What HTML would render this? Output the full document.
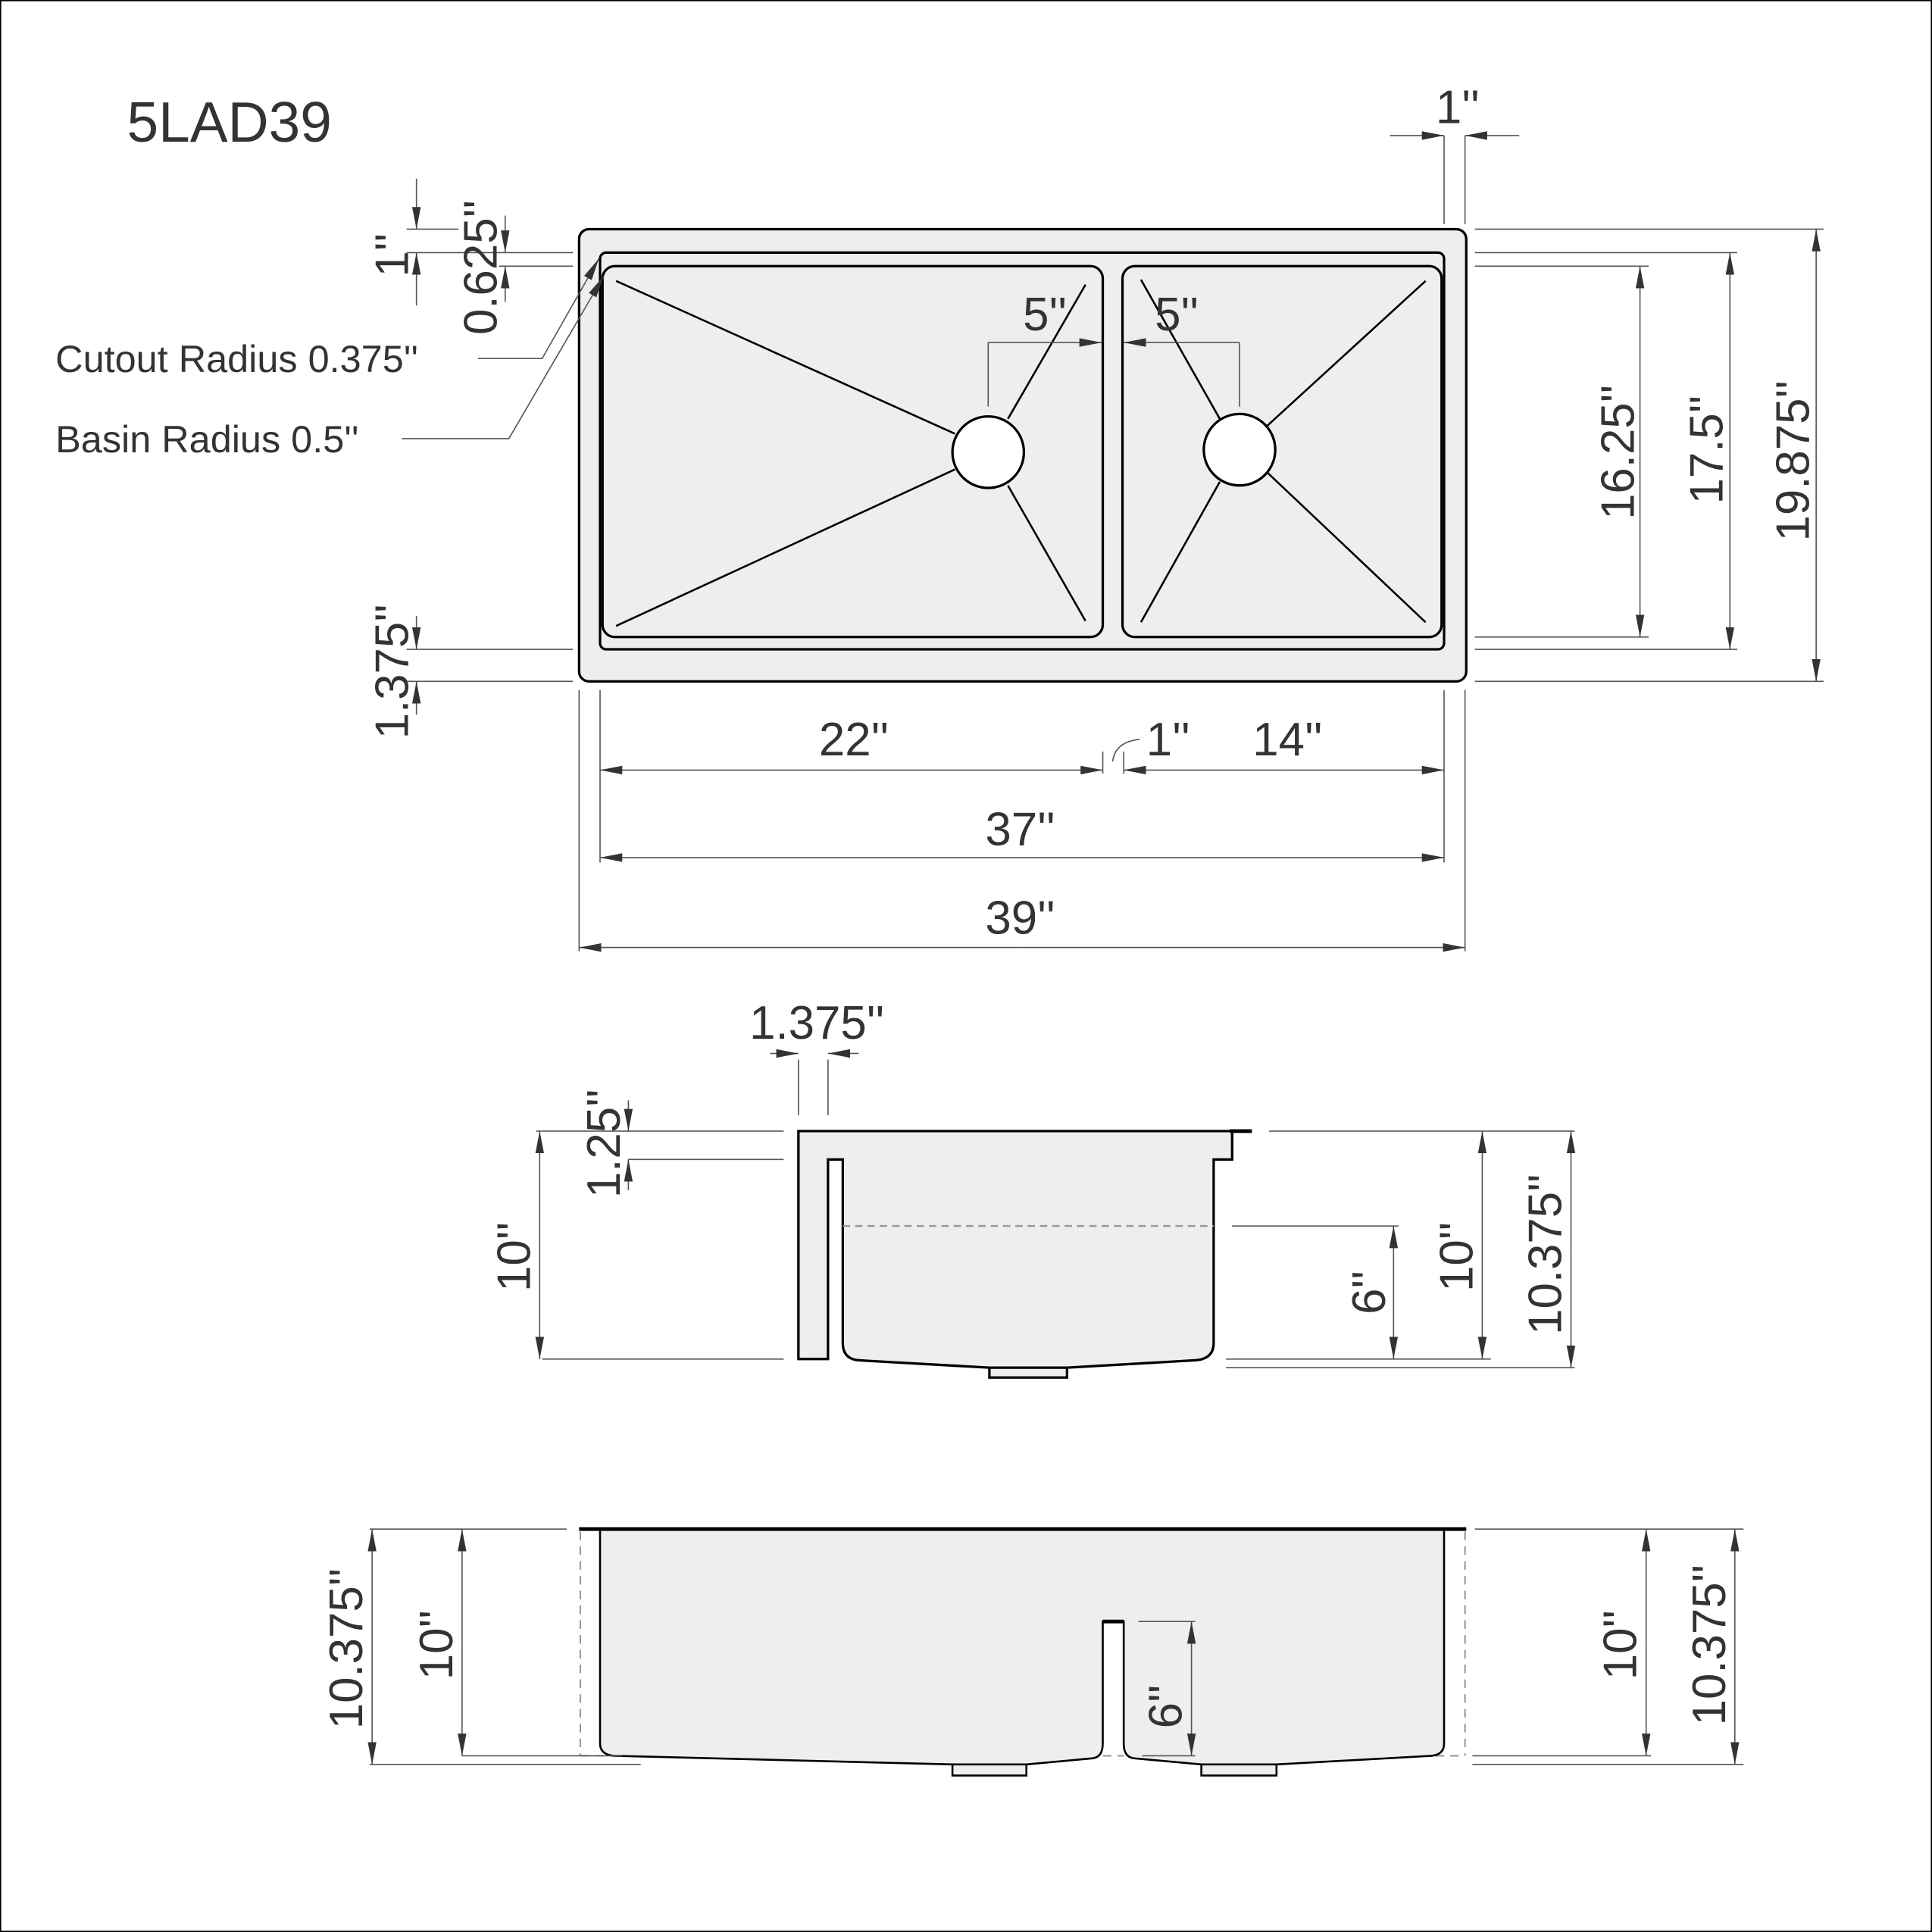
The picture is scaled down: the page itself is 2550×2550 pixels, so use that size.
<!DOCTYPE html>
<html><head><meta charset="utf-8"><style>
html,body{margin:0;padding:0;background:#fff;}
svg{display:block;}
text{font-family:"Liberation Sans",sans-serif;fill:#333;font-size:38px;}
</style></head><body>
<svg width="2550" height="2550" viewBox="0 0 1568 1568" xmlns="http://www.w3.org/2000/svg">
<defs>
<marker id="a" viewBox="0 0 18 8" refX="18" refY="4" markerWidth="18" markerHeight="8" markerUnits="userSpaceOnUse" orient="auto-start-reverse">
<path d="M0,0.5 L18,4 L0,7.5 Z" fill="#333"/>
</marker>
</defs>
<rect x="0.5" y="0.5" width="1567" height="1567" fill="none" stroke="#000" stroke-width="1"/>
<text x="103" y="115" style="font-size:46px">5LAD39</text>

<!-- TOP VIEW -->
<g stroke="#000" stroke-width="2" fill="#eee">
<rect x="470" y="186" width="720" height="367" rx="8"/>
<rect x="487" y="205" width="685" height="322" rx="5"/>
<rect x="489" y="216" width="406" height="301" rx="10"/>
<rect x="911" y="216" width="259" height="301" rx="10"/>
</g>
<g stroke="#000" stroke-width="1.6">
<line x1="500" y1="228" x2="775" y2="352"/>
<line x1="500" y1="508" x2="775" y2="381"/>
<line x1="881" y1="231" x2="818" y2="340"/>
<line x1="881" y1="504" x2="818" y2="394"/>
<line x1="926" y1="227" x2="990" y2="340"/>
<line x1="1157" y1="228" x2="1028" y2="346"/>
<line x1="926" y1="505" x2="990" y2="391"/>
<line x1="1157" y1="505" x2="1028" y2="383"/>
</g>
<circle cx="802" cy="367" r="29" fill="#fff" stroke="#000" stroke-width="2"/>
<circle cx="1006" cy="365" r="29" fill="#fff" stroke="#000" stroke-width="2"/>

<g stroke="#555" stroke-width="1" fill="none">
<line x1="802" y1="278" x2="802" y2="330"/>
<line x1="1006" y1="278" x2="1006" y2="330"/>
<line x1="802" y1="278" x2="894" y2="278" marker-end="url(#a)"/>
<line x1="1006" y1="278" x2="912" y2="278" marker-end="url(#a)"/>
<line x1="1172" y1="110" x2="1172" y2="182"/>
<line x1="1189" y1="110" x2="1189" y2="182"/>
<line x1="1128" y1="110" x2="1172" y2="110" marker-end="url(#a)"/>
<line x1="1233" y1="110" x2="1189" y2="110" marker-end="url(#a)"/>
<line x1="1197" y1="186" x2="1480" y2="186"/>
<line x1="1197" y1="205" x2="1410" y2="205"/>
<line x1="1197" y1="216" x2="1338" y2="216"/>
<line x1="1197" y1="517" x2="1338" y2="517"/>
<line x1="1197" y1="527" x2="1410" y2="527"/>
<line x1="1197" y1="553" x2="1480" y2="553"/>
<line x1="1331" y1="367" x2="1331" y2="216" marker-end="url(#a)"/>
<line x1="1331" y1="367" x2="1331" y2="517" marker-end="url(#a)"/>
<line x1="1404" y1="367" x2="1404" y2="205" marker-end="url(#a)"/>
<line x1="1404" y1="367" x2="1404" y2="527" marker-end="url(#a)"/>
<line x1="1474" y1="370" x2="1474" y2="186" marker-end="url(#a)"/>
<line x1="1474" y1="370" x2="1474" y2="553" marker-end="url(#a)"/>
<line x1="330" y1="186" x2="372" y2="186"/>
<line x1="330" y1="205" x2="465" y2="205"/>
<line x1="405" y1="216" x2="465" y2="216"/>
<line x1="338" y1="145" x2="338" y2="186" marker-end="url(#a)"/>
<line x1="338" y1="248" x2="338" y2="205" marker-end="url(#a)"/>
<line x1="410" y1="175" x2="410" y2="205" marker-end="url(#a)"/>
<line x1="410" y1="245" x2="410" y2="216" marker-end="url(#a)"/>
<line x1="330" y1="527" x2="465" y2="527"/>
<line x1="330" y1="553" x2="465" y2="553"/>
<line x1="338" y1="500" x2="338" y2="527" marker-end="url(#a)"/>
<line x1="338" y1="580" x2="338" y2="553" marker-end="url(#a)"/>
<line x1="470" y1="560" x2="470" y2="772"/>
<line x1="1189" y1="560" x2="1189" y2="772"/>
<line x1="487" y1="560" x2="487" y2="700"/>
<line x1="1172" y1="560" x2="1172" y2="700"/>
<line x1="895" y1="610" x2="895" y2="628"/>
<line x1="912" y1="610" x2="912" y2="628"/>
<line x1="690" y1="625" x2="487" y2="625" marker-end="url(#a)"/>
<line x1="690" y1="625" x2="895" y2="625" marker-end="url(#a)"/>
<line x1="1040" y1="625" x2="912" y2="625" marker-end="url(#a)"/>
<line x1="1040" y1="625" x2="1172" y2="625" marker-end="url(#a)"/>
<path d="M903,618 Q905,602 925,600"/>
<line x1="828" y1="696" x2="487" y2="696" marker-end="url(#a)"/>
<line x1="828" y1="696" x2="1172" y2="696" marker-end="url(#a)"/>
<line x1="828" y1="769" x2="470" y2="769" marker-end="url(#a)"/>
<line x1="828" y1="769" x2="1189" y2="769" marker-end="url(#a)"/>
<polyline points="388,291 440,291 486,210" marker-end="url(#a)"/>
<polyline points="326,356 413,356 490,224" marker-end="url(#a)"/>
</g>

<text x="848" y="268" text-anchor="middle">5''</text>
<text x="955" y="268" text-anchor="middle">5''</text>
<text x="1183" y="100" text-anchor="middle">1''</text>
<text transform="translate(1326,367) rotate(-90)" text-anchor="middle">16.25''</text>
<text transform="translate(1398,365) rotate(-90)" text-anchor="middle">17.5''</text>
<text transform="translate(1468,374) rotate(-90)" text-anchor="middle">19.875''</text>
<text transform="translate(331,207) rotate(-90)" text-anchor="middle">1''</text>
<text transform="translate(403,217) rotate(-90)" text-anchor="middle">0.625''</text>
<text transform="translate(331,545) rotate(-90)" text-anchor="middle">1.375''</text>
<text x="45" y="302" style="font-size:31px">Cutout Radius 0.375''</text>
<text x="45" y="367" style="font-size:31px">Basin Radius 0.5''</text>
<text x="693" y="613" text-anchor="middle">22''</text>
<text x="948" y="613" text-anchor="middle">1''</text>
<text x="1045" y="613" text-anchor="middle">14''</text>
<text x="828" y="686" text-anchor="middle">37''</text>
<text x="828" y="758" text-anchor="middle">39''</text>

<!-- SIDE VIEW -->
<path d="M648,918 L1000,918 L1000,941 L985,941 L985,1090 Q985,1103 970,1104 L866,1110 L803,1110 L697,1104 Q684,1103 684,1090 L684,941 L672,941 L672,1103 L648,1103 Z" fill="#eee" stroke="#000" stroke-width="2"/>
<rect x="803" y="1110" width="63" height="8" fill="#eee" stroke="#000" stroke-width="2"/>
<line x1="998" y1="918" x2="1016" y2="918" stroke="#000" stroke-width="3"/>
<line x1="684" y1="995" x2="985" y2="995" stroke="#999" stroke-width="1.5" stroke-dasharray="6,4"/>
<g stroke="#555" stroke-width="1" fill="none">
<line x1="648" y1="860" x2="648" y2="905"/>
<line x1="672" y1="860" x2="672" y2="905"/>
<line x1="625" y1="855" x2="648" y2="855" marker-end="url(#a)"/>
<line x1="697" y1="855" x2="672" y2="855" marker-end="url(#a)"/>
<line x1="435" y1="918" x2="636" y2="918"/>
<line x1="440" y1="1103" x2="636" y2="1103"/>
<line x1="510" y1="941" x2="636" y2="941"/>
<line x1="438" y1="1010" x2="438" y2="918" marker-end="url(#a)"/>
<line x1="438" y1="1010" x2="438" y2="1103" marker-end="url(#a)"/>
<line x1="510" y1="893" x2="510" y2="918" marker-end="url(#a)"/>
<line x1="510" y1="966" x2="510" y2="941" marker-end="url(#a)"/>
<line x1="1030" y1="918" x2="1278" y2="918"/>
<line x1="1000" y1="995" x2="1135" y2="995"/>
<line x1="995" y1="1103" x2="1210" y2="1103"/>
<line x1="995" y1="1110" x2="1278" y2="1110"/>
<line x1="1131" y1="1050" x2="1131" y2="995" marker-end="url(#a)"/>
<line x1="1131" y1="1050" x2="1131" y2="1103" marker-end="url(#a)"/>
<line x1="1203" y1="1010" x2="1203" y2="918" marker-end="url(#a)"/>
<line x1="1203" y1="1010" x2="1203" y2="1103" marker-end="url(#a)"/>
<line x1="1275" y1="1015" x2="1275" y2="918" marker-end="url(#a)"/>
<line x1="1275" y1="1015" x2="1275" y2="1110" marker-end="url(#a)"/>
</g>
<text x="663" y="843" text-anchor="middle">1.375''</text>
<text transform="translate(430,1020) rotate(-90)" text-anchor="middle">10''</text>
<text transform="translate(503,928) rotate(-90)" text-anchor="middle">1.25''</text>
<text transform="translate(1124,1049) rotate(-90)" text-anchor="middle">6''</text>
<text transform="translate(1195,1020) rotate(-90)" text-anchor="middle">10''</text>
<text transform="translate(1267,1018) rotate(-90)" text-anchor="middle">10.375''</text>

<!-- FRONT VIEW -->
<g stroke="#999" stroke-width="1.3" stroke-dasharray="7,5" fill="none">
<line x1="471" y1="1243" x2="471" y2="1425"/>
<line x1="1189" y1="1243" x2="1189" y2="1425"/>
<line x1="471" y1="1425" x2="500" y2="1425"/>
<line x1="1165" y1="1425" x2="1189" y2="1425"/>
<line x1="895" y1="1425" x2="912" y2="1425"/>
</g>
<path d="M487,1241 L1172,1241 L1172,1415 Q1172,1424 1162,1425 L1036,1432 L975,1432 L920,1427 Q912,1426 912,1415 L912,1316 L895,1316 L895,1415 Q895,1426 887,1427 L833,1432 L773,1432 L498,1425 Q487,1424 487,1415 Z" fill="#eee" stroke="#000" stroke-width="1.6"/>
<rect x="773" y="1432" width="60" height="9" fill="#eee" stroke="#000" stroke-width="1.6"/>
<rect x="975" y="1432" width="61" height="9" fill="#eee" stroke="#000" stroke-width="1.6"/>
<line x1="470" y1="1241" x2="1190" y2="1241" stroke="#000" stroke-width="3"/>
<line x1="895" y1="1316" x2="912" y2="1316" stroke="#000" stroke-width="3"/>
<g stroke="#555" stroke-width="1" fill="none">
<line x1="300" y1="1241" x2="460" y2="1241"/>
<line x1="375" y1="1425" x2="505" y2="1425"/>
<line x1="300" y1="1432" x2="520" y2="1432"/>
<line x1="302" y1="1338" x2="302" y2="1241" marker-end="url(#a)"/>
<line x1="302" y1="1338" x2="302" y2="1432" marker-end="url(#a)"/>
<line x1="375" y1="1333" x2="375" y2="1241" marker-end="url(#a)"/>
<line x1="375" y1="1333" x2="375" y2="1425" marker-end="url(#a)"/>
<line x1="924" y1="1316" x2="970" y2="1316"/>
<line x1="927" y1="1425" x2="970" y2="1425"/>
<line x1="967" y1="1370" x2="967" y2="1316" marker-end="url(#a)"/>
<line x1="967" y1="1370" x2="967" y2="1425" marker-end="url(#a)"/>
<line x1="1197" y1="1241" x2="1415" y2="1241"/>
<line x1="1195" y1="1425" x2="1340" y2="1425"/>
<line x1="1195" y1="1432" x2="1415" y2="1432"/>
<line x1="1336" y1="1333" x2="1336" y2="1241" marker-end="url(#a)"/>
<line x1="1336" y1="1333" x2="1336" y2="1425" marker-end="url(#a)"/>
<line x1="1408" y1="1333" x2="1408" y2="1241" marker-end="url(#a)"/>
<line x1="1408" y1="1333" x2="1408" y2="1432" marker-end="url(#a)"/>
</g>
<text transform="translate(294,1338) rotate(-90)" text-anchor="middle">10.375''</text>
<text transform="translate(367,1335) rotate(-90)" text-anchor="middle">10''</text>
<text transform="translate(959,1385) rotate(-90)" text-anchor="middle">6''</text>
<text transform="translate(1328,1335) rotate(-90)" text-anchor="middle">10''</text>
<text transform="translate(1400,1335) rotate(-90)" text-anchor="middle">10.375''</text>
</svg>
</body></html>
